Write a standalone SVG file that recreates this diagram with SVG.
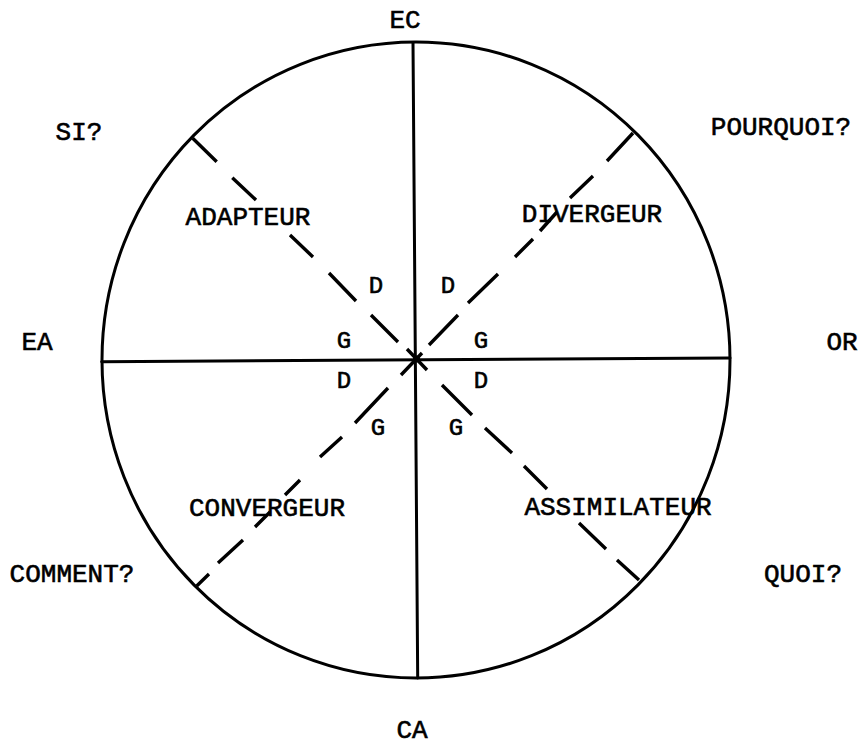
<svg xmlns="http://www.w3.org/2000/svg" width="861" height="745" viewBox="0 0 861 745">
<style>
.ln{fill:none;stroke:#000;stroke-width:3;stroke-linecap:round}
.ds{fill:none;stroke:#000;stroke-width:3.4;stroke-linecap:butt}
text{font-family:"Liberation Mono","DejaVu Sans Mono",monospace;font-size:26px;fill:#000;stroke:#000;stroke-width:0.6;text-anchor:middle}
.sm{font-size:24px}
</style>
<rect width="861" height="745" fill="#fff"/>
<g id="circle">
<ellipse class="ln" cx="416" cy="360" rx="314" ry="318"/>
</g>
<g id="connectors">
<line class="ln" x1="413" y1="42.5" x2="417.7" y2="678"/>
<line class="ln" x1="101.7" y1="361.7" x2="730" y2="358"/>
<path class="ds" d="M192.7,138.3L216.7,161.7M232.3,177.7L256,200M290,235L313,257M329,273L356,301M371,315L398,342M407,349L427,370"/>
<path class="ds" d="M633,133L607,161M593,176L570,198M557,212L540,231M533,239L515,257M498,274L468,303M458,315L429,345M422,353L401,375"/>
<path class="ds" d="M196.7,586L209,574M218,563L243,540M255,527L270,512M285,495L300,480M320,457L342,437M355,423L388,388"/>
<path class="ds" d="M639,580L617,560M606,549L579,523M547,489L524,466M512,453L485,428M472,415L442,385"/>
<circle cx="416.5" cy="359" r="3.5" fill="#000"/>
</g>
<g id="labels">
<text x="405" y="28">EC</text>
<text x="412" y="738">CA</text>
<text x="37" y="350">EA</text>
<text x="842" y="350">OR</text>
<text x="79" y="140">SI?</text>
<text x="781" y="135">POURQUOI?</text>
<text x="72" y="582">COMMENT?</text>
<text x="803" y="582">QUOI?</text>
</g>
<g id="adapteur"><text x="248" y="225">ADAPTEUR</text></g>
<g id="divergeur"><text x="592" y="222">DIVERGEUR</text></g>
<g id="convergeur"><text x="267" y="516">CONVERGEUR</text></g>
<g id="assimilateur"><text x="618" y="515">ASSIMILATEUR</text></g>
<g id="dg">
<text class="sm" x="376" y="293">D</text>
<text class="sm" x="448" y="293">D</text>
<text class="sm" x="344" y="348">G</text>
<text class="sm" x="481" y="348">G</text>
<text class="sm" x="344" y="388">D</text>
<text class="sm" x="481" y="388">D</text>
<text class="sm" x="378" y="435">G</text>
<text class="sm" x="456" y="435">G</text>
</g>
</svg>
